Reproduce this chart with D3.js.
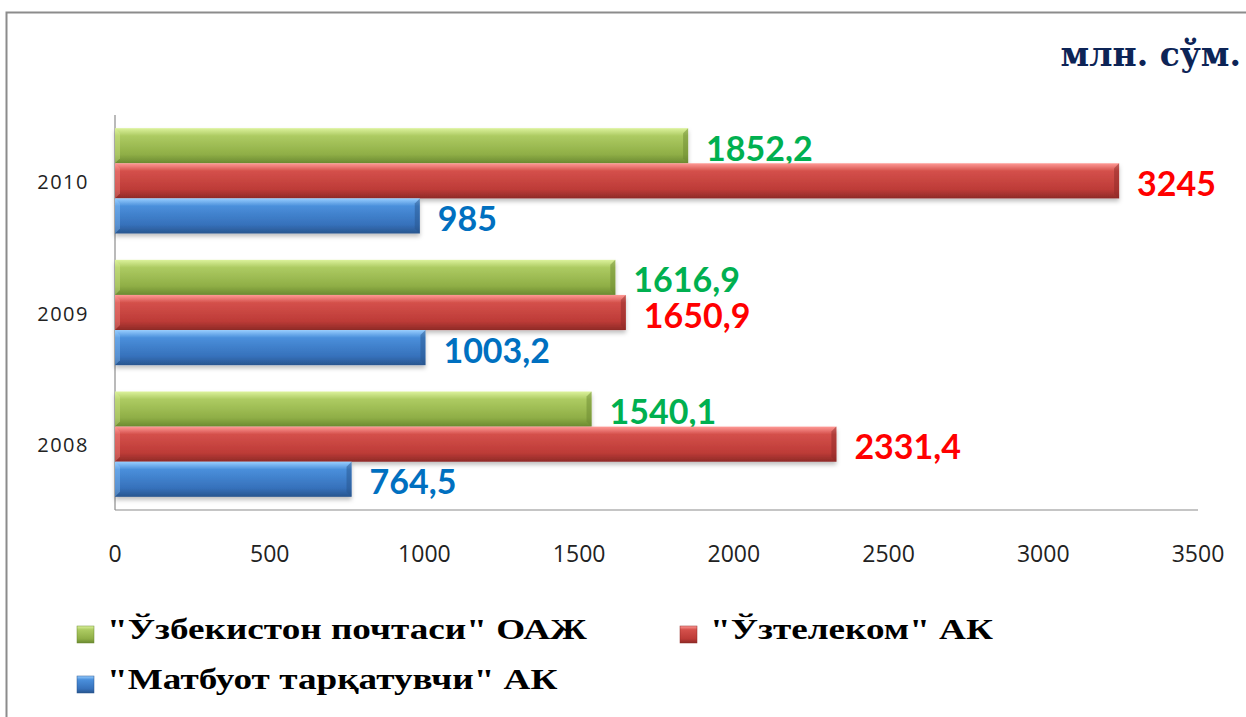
<!DOCTYPE html>
<html>
<head>
<meta charset="utf-8">
<script src="https://cdn.jsdelivr.net/npm/d3@7"></script>
<style>
  body { margin: 0; background: #fff; }
  svg { display: block; }
</style>
</head>
<body>
<div id="chart"></div>
<script>
// years shown top to bottom
var years = ['2010', '2009', '2008'];
var seriesNames = ['"Ўзбекистон почтаси" ОАЖ', '"Ўзтелеком" АК', '"Матбуот тарқатувчи" АК'];
var pochta = [1852.2, 1616.9, 1540.1];
var telekom = [3245, 1650.9, 2331.4];
var matbuot = [985, 1003.2, 764.5];
var labels = [['1852,2', '1616,9', '1540,1'], ['3245', '1650,9', '2331,4'], ['985', '1003,2', '764,5']];
var xTicks = [0, 500, 1000, 1500, 2000, 2500, 3000, 3500];

var width = 1246,
  height = 717;

var svg = d3.select('#chart')
  .append('svg')
  .attr('width', width)
  .attr('height', height);

// outer frame
svg.append('rect')
  .attr('x', 6.5).attr('y', 12.5)
  .attr('width', 1260).attr('height', 720)
  .attr('fill', '#fff')
  .attr('stroke', '#8c8c8c')
  .attr('stroke-width', 2);

var defs = svg.append('defs');
var palettes = [
  ['#dcf29c', '#adcb62', '#8fae46', '#6b8a31'],
  ['#ff9a96', '#d4504b', '#bd3b37', '#8e2a27'],
  ['#98ceff', '#4a8fdb', '#3671bb', '#28558e']
];
palettes.forEach(function(p, i) {
  var g = defs.append('linearGradient')
    .attr('id', 'grad' + i)
    .attr('x1', 0).attr('y1', 0).attr('x2', 0).attr('y2', 1);
  g.append('stop').attr('offset', '0%').attr('stop-color', p[0]);
  g.append('stop').attr('offset', '22%').attr('stop-color', p[1]);
  g.append('stop').attr('offset', '75%').attr('stop-color', p[2]);
  g.append('stop').attr('offset', '100%').attr('stop-color', p[3]);
});
var shadow = defs.append('filter').attr('id', 'shadow')
  .attr('x', '-5%').attr('y', '-20%').attr('width', '110%').attr('height', '160%');
shadow.append('feDropShadow')
  .attr('dx', 0).attr('dy', 3).attr('stdDeviation', 2)
  .attr('flood-color', '#000').attr('flood-opacity', 0.25);

var margin = { left: 115, right: 48, top: 115, bottom: 207 };
var plotW = width - margin.left - margin.right;
var plotH = height - margin.top - margin.bottom;

var g = svg.append('g')
  .attr('transform', 'translate(' + margin.left + ',' + margin.top + ')');

var xScale = d3.scaleLinear().domain([0, 3500]).range([0, plotW]);
var yScale = d3.scaleBand().domain(years).range([0, plotH])
  .paddingInner(0.2).paddingOuter(0.1);
var inner = d3.scaleBand().domain([0, 1, 2]).range([0, yScale.bandwidth()]);

var data = [pochta, telekom, matbuot];
var labelColors = ['#00b050', '#ff0000', '#0070c0'];

// axes lines
g.append('line')
  .attr('x1', 0).attr('x2', 0).attr('y1', 0).attr('y2', plotH)
  .attr('stroke', '#8c8c8c').attr('stroke-width', 1.2);
g.append('line')
  .attr('x1', 0).attr('x2', plotW).attr('y1', plotH).attr('y2', plotH)
  .attr('stroke', '#8c8c8c').attr('stroke-width', 1.2);

// bars, one group per series
var series = g.selectAll('.series')
  .data(data)
  .enter()
  .append('g')
  .attr('class', 'series');

series.each(function(vals, si) {
  var sg = d3.select(this);
  vals.forEach(function(v, yi) {
    var y = yScale(years[yi]) + inner(si);
    var h = inner.bandwidth();
    var w = xScale(v);
    sg.append('rect')
      .attr('x', 0).attr('y', y)
      .attr('width', w).attr('height', h)
      .attr('fill', 'url(#grad' + si + ')')
      .attr('filter', 'url(#shadow)');
    // bevel at the right end
    sg.append('path')
      .attr('d', 'M' + (w - 5) + ',' + (y + 5) + 'L' + w + ',' + y + 'L' + w + ',' + (y + h) + 'L' + (w - 5) + ',' + (y + h - 5) + 'Z')
      .attr('fill', palettes[si][3]).attr('opacity', 0.5);
    // bevel at the left
    sg.append('path')
      .attr('d', 'M0,' + y + 'L5,' + (y + 5) + 'L5,' + (y + h - 5) + 'L0,' + (y + h) + 'Z')
      .attr('fill', palettes[si][0]).attr('opacity', 0.35);
    sg.append('text')
      .attr('x', w + 18)
      .attr('y', y + h / 2 + 15)
      .attr('fill', labelColors[si])
      .style('font-family', 'Lato, "Open Sans", sans-serif')
      .style('font-weight', 'bold')
      .style('font-size', '34px')
      .text(labels[si][yi]);
  });
});

// y axis labels
g.selectAll('.ylab')
  .data(years)
  .enter()
  .append('text')
  .attr('x', -26)
  .attr('y', function(d) { return yScale(d) + yScale.bandwidth() / 2 + 8; })
  .attr('text-anchor', 'end')
  .attr('fill', '#222')
  .style('font-family', '"Open Sans", sans-serif')
  .style('font-size', '20px')
  .style('letter-spacing', '1.5px')
  .text(function(d) { return d; });

// x axis labels
g.selectAll('.xlab')
  .data(xTicks)
  .enter()
  .append('text')
  .attr('x', function(d) { return xScale(d); })
  .attr('y', plotH + 52)
  .attr('text-anchor', 'middle')
  .attr('fill', '#222')
  .style('font-family', '"Open Sans", sans-serif')
  .style('font-size', '23px')
  .text(function(d) { return d; });

// title
svg.append('text')
  .attr('x', 1241).attr('y', 66)
  .attr('text-anchor', 'end')
  .attr('fill', '#0d2456')
  .style('font-family', '"DejaVu Serif", serif')
  .style('font-weight', 'bold')
  .style('font-size', '33px')
  .text('млн. сўм.');

// legend
var legendPos = [[77, 639], [680, 639], [77, 689]];
var legend = svg.selectAll('.legend')
  .data(seriesNames)
  .enter()
  .append('g')
  .attr('transform', function(d, i) {
    return 'translate(' + legendPos[i][0] + ',' + legendPos[i][1] + ')';
  });

legend.append('rect')
  .attr('x', 0).attr('y', -13)
  .attr('width', 17).attr('height', 17)
  .attr('fill', function(d, i) { return 'url(#grad' + i + ')'; })
  .attr('stroke', function(d, i) { return palettes[i][3]; })
  .attr('stroke-width', 0.5);

// the reference legend text is drawn wide, so stretch it horizontally
legend.append('text')
  .attr('transform', 'translate(30,0) scale(1.24,1)')
  .attr('fill', '#000')
  .style('font-family', '"Liberation Serif", "Times New Roman", serif')
  .style('font-weight', 'bold')
  .style('font-size', '30px')
  .text(function(d) { return d; });
</script>
</body>
</html>
